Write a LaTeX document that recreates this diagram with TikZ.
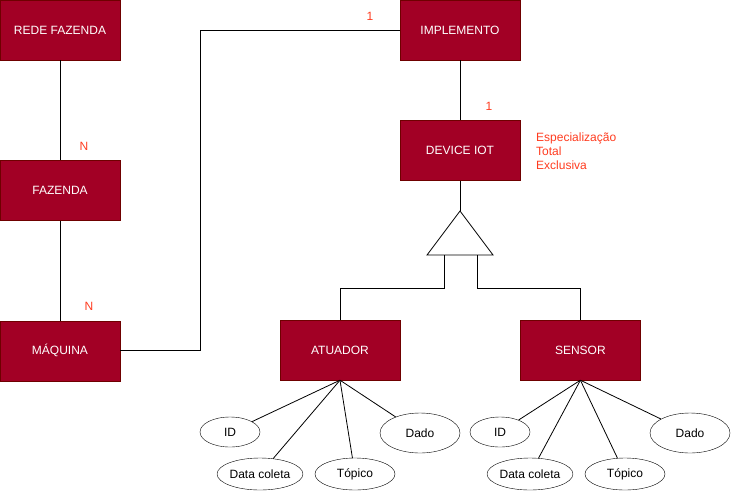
\documentclass[tikz,border=0pt]{standalone}
\usepackage{fontspec}
\setmainfont{Liberation Sans}
\usetikzlibrary{positioning,shapes.geometric}

\definecolor{entfill}{HTML}{A20025}
\definecolor{entdraw}{HTML}{6F0000}
\definecolor{cardred}{HTML}{FF3B1F}

\begin{document}
\begin{tikzpicture}[x=1pt, y=-1pt,
  entity/.style={draw=entdraw, fill=entfill, text=white, minimum width=120pt, minimum height=60pt, inner sep=0pt, font=\fontsize{12}{14}\selectfont},
  attr/.style={draw, ellipse, inner sep=0pt, font=\fontsize{12}{14}\selectfont},
  card/.style={text=cardred, inner sep=0pt, font=\fontsize{12}{14}\selectfont},
  link/.style={line width=0.8pt}]
  \useasboundingbox (0,0) rectangle (731,496);

  % nodes
  \node[entity] (rede) at (60,30) {REDE FAZENDA};
  \node[entity, below=100pt of rede] (fazenda) {FAZENDA};
  \node[entity, below=100pt of fazenda] (maquina) {MÁQUINA};
  \node[entity] (implemento) at (460,30) {IMPLEMENTO};
  \node[entity, below=60pt of implemento] (device) {DEVICE IOT};
  \node[entity] (atuador) at (340,350) {ATUADOR};
  \node[entity, right=120pt of atuador] (sensor) {SENSOR};

  % attributes
  \node[attr, minimum width=60pt, minimum height=30pt] (aid) at (230,432) {ID};
  \node[attr, minimum width=80pt, minimum height=32pt] (adata) at (260,474) {Data coleta};
  \node[attr, minimum width=80pt, minimum height=32pt] (atopico) at (355,474) {Tópico};
  \node[attr, minimum width=80pt, minimum height=40pt] (adado) at (420,433) {Dado};
  \node[attr, minimum width=60pt, minimum height=30pt] (sid) at (500,432) {ID};
  \node[attr, minimum width=80pt, minimum height=32pt] (sdata) at (530,474) {Data coleta};
  \node[attr, minimum width=80pt, minimum height=32pt] (stopico) at (625,474) {Tópico};
  \node[attr, minimum width=80pt, minimum height=40pt] (sdado) at (690,433) {Dado};

  % cardinalities
  \node[card] at (370,16) {1};
  \node[card] at (489,106) {1};
  \node[card] at (84,146) {N};
  \node[card] at (89,306) {N};
  \node[card, anchor=north west, align=left] at (536,133) {Especialização\\Total\\Exclusiva};

  % specialization
  \coordinate (isa) at (460,211);
  \coordinate (isaL) at (444,255);
  \coordinate (isaR) at (477,255);
  \draw[link] (isa) -- (493,255) -- (427,255) -- cycle;

  % edges
  \draw[link] (rede) -- (fazenda);
  \draw[link] (fazenda) -- (maquina);
  \draw[link] (maquina.east) -- ++(80,0) |- (implemento.west);
  \draw[link] (implemento) -- (device);
  \draw[link] (device) -- (isa);
  \draw[link] (isaL) -- ++(0,33) -| (atuador);
  \draw[link] (isaR) -- ++(0,33) -| (sensor);
  \foreach \a in {aid,adata,atopico,adado}
    \draw[link] (atuador.south) -- (\a);
  \foreach \s in {sid,sdata,stopico,sdado}
    \draw[link] (sensor.south) -- (\s);
\end{tikzpicture}
\end{document}
